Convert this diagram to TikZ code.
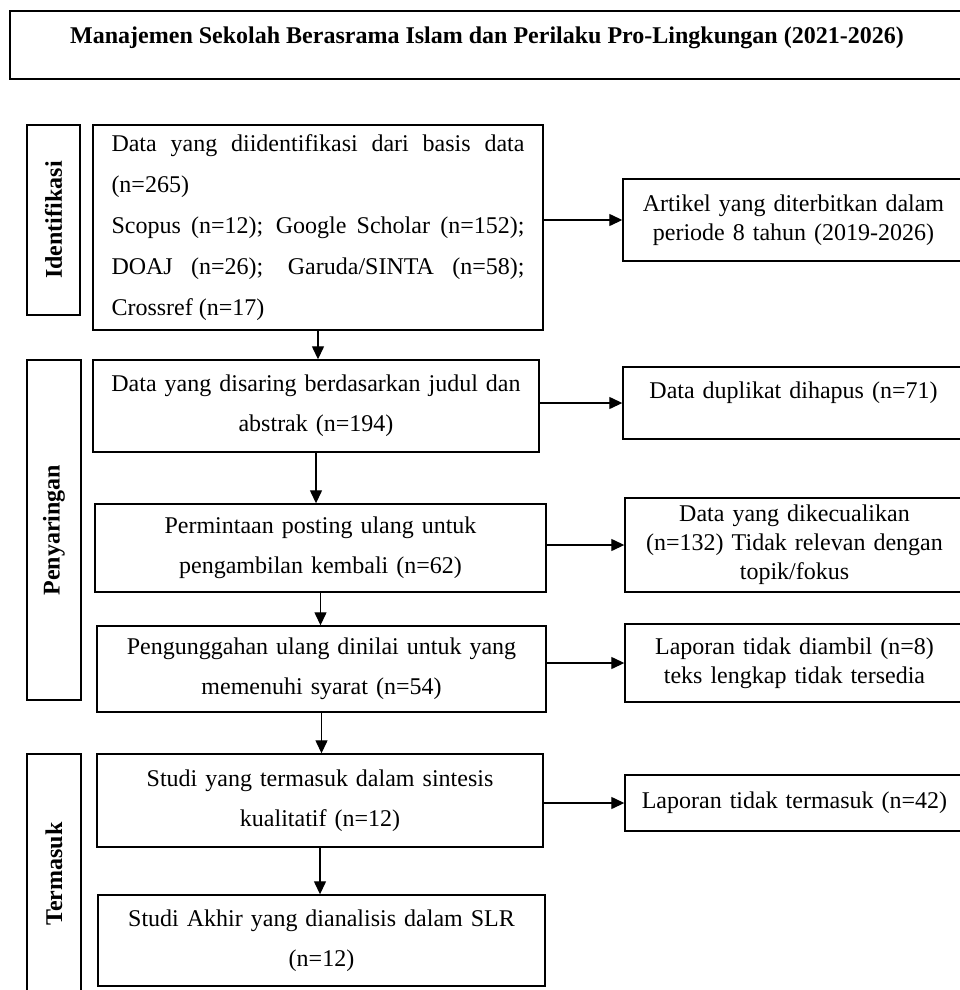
\documentclass[tikz,border=0pt]{standalone}
\usepackage{fontspec}
\setmainfont{Liberation Serif}
\usetikzlibrary{arrows.meta}

\begin{document}
\begin{tikzpicture}[x=1pt,y=-1pt,>={Triangle[length=13pt,width=12pt]},
    main node/.style={draw,line width=1.4pt,inner sep=0pt,align=center,
      text width=430pt,font=\fontsize{24pt}{40pt}\selectfont},
    note node/.style={draw,line width=1.4pt,inner sep=0pt,align=center,
      text width=334pt,font=\fontsize{24pt}{29pt}\selectfont},
    side node/.style={draw,line width=1.4pt,inner sep=0pt,rotate=90,
      font=\fontsize{24pt}{29pt}\selectfont\bfseries}]

      \useasboundingbox (0,0) rectangle (960,990);
      \clip (0,0) rectangle (960,990);

      % judul
      \node[draw,line width=1.4pt,inner sep=0pt,minimum width=954pt,minimum height=68pt,
        text depth=20pt,font=\fontsize{24pt}{29pt}\selectfont\bfseries] (T) at (487,45)
        {Manajemen Sekolah Berasrama Islam dan Perilaku Pro-Lingkungan (2021-2026)};

      % tahap
      \node[side node,minimum width=190pt,minimum height=53pt] (P1) at (53.5,220) {Identifikasi};
      \node[side node,minimum width=340pt,minimum height=54pt] (P2) at (54,530) {Penyaringan};
      \node[side node,minimum width=240pt,minimum height=54pt] (P3) at (54,874) {Termasuk};

      % alur utama
      \node[main node,minimum width=450pt,minimum height=205pt,text width=413pt,align=justify,
        font=\fontsize{24pt}{41pt}\selectfont] (1) at (318,227.5)
        {Data yang diidentifikasi dari basis data\linebreak (n=265)\\
         Scopus (n=12); Google Scholar (n=152);\linebreak
         DOAJ (n=26); Garuda/SINTA (n=58);\linebreak Crossref (n=17)};
      \node[main node,minimum width=446pt,minimum height=92pt] (2) at (316,406)
        {Data yang disaring berdasarkan judul dan\\ abstrak (n=194)};
      \node[main node,minimum width=451pt,minimum height=88pt] (3) at (320.5,548)
        {Permintaan posting ulang untuk\\ pengambilan kembali (n=62)};
      \node[main node,minimum width=449pt,minimum height=86pt] (4) at (321.5,669)
        {Pengunggahan ulang dinilai untuk yang\\ memenuhi syarat (n=54)};
      \node[main node,minimum width=446pt,minimum height=93pt] (5) at (320,800.5)
        {Studi yang termasuk dalam sintesis\\ kualitatif (n=12)};
      \node[main node,minimum width=447pt,minimum height=91pt] (6) at (321.5,940.5)
        {Studi Akhir yang dianalisis dalam SLR\\ (n=12)};

      % keluaran samping
      \node[note node,minimum width=341pt,minimum height=82pt] (7) at (793.5,220)
        {Artikel yang diterbitkan dalam\\ periode 8 tahun (2019-2026)};
      \node[note node,minimum width=341pt,minimum height=72pt,text depth=26pt] (8) at (793.5,403)
        {Data duplikat dihapus (n=71)};
      \node[note node,minimum width=339pt,minimum height=94pt] (9) at (794.5,545)
        {Data yang dikecualikan\\ (n=132) Tidak relevan dengan\\ topik/fokus};
      \node[note node,minimum width=339pt,minimum height=78pt] (10) at (794.5,663)
        {Laporan tidak diambil (n=8)\\ teks lengkap tidak tersedia};
      \node[note node,minimum width=339pt,minimum height=56pt] (11) at (794.5,803)
        {Laporan tidak termasuk (n=42)};

      \path[->,line width=1.3pt]
        (1.south) edge (1.south |- 2.north)
        (2.south) edge (2.south |- 3.north)
        (3.south) edge (3.south |- 4.north)
        (4.south) edge (4.south |- 5.north)
        (5.south) edge (5.south |- 6.north)
        (7.west -| 1.east) edge (7.west)
        (8.west -| 2.east) edge (8.west)
        (9.west -| 3.east) edge (9.west)
        (10.west -| 4.east) edge (10.west)
        (11.west -| 5.east) edge (11.west);
\end{tikzpicture}
\end{document}
